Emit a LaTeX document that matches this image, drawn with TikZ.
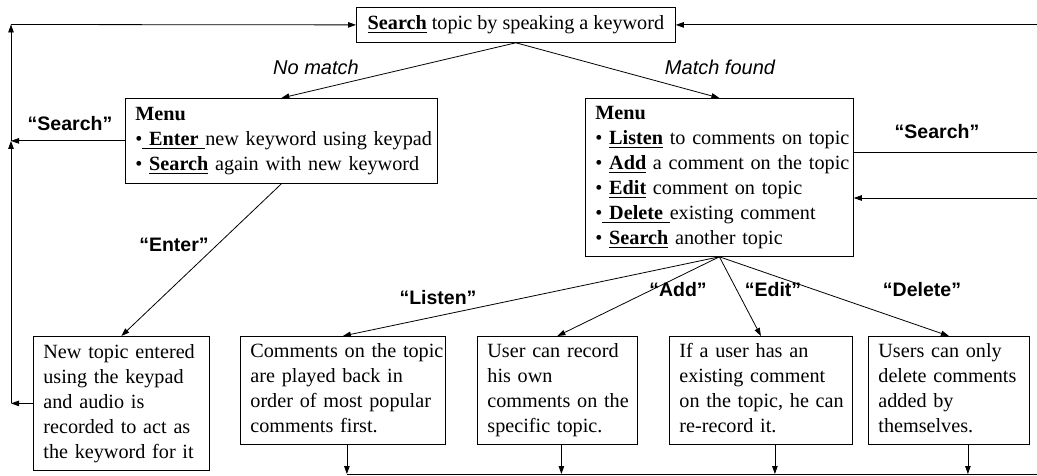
\documentclass[tikz,border=0pt]{standalone}
\usepackage{fontspec}
\setmainfont{Liberation Serif}
\newfontfamily\lsans{Liberation Sans}
\usetikzlibrary{arrows.meta,calc}
\newsavebox\ulbox
\newcommand{\myul}[1]{\sbox\ulbox{#1}\rlap{\rule[-3.4pt]{\wd\ulbox}{1.6pt}}\usebox\ulbox}
\newcommand{\lines}[1]{\begin{tabular}{@{}l@{}}#1\end{tabular}}
\tikzset{
  box/.style={draw, line width=0.8pt, inner xsep=10pt, inner ysep=4pt, align=left,
    anchor=north west, font=\fontsize{20.2}{25}\selectfont},
  lab/.style={font=\lsans\bfseries\fontsize{19.5}{22}\selectfont, inner sep=0pt},
  ital/.style={font=\lsans\itshape\fontsize{20}{22}\selectfont, inner sep=0pt},
  arr/.style={-{Triangle[length=8pt,width=5.5pt]}, line width=0.8pt},
  ln/.style={line width=0.8pt},
}
\begin{document}
\begin{tikzpicture}[x=1pt,y=-1pt]
\useasboundingbox (0,0) rectangle (1037,476);
% boxes
\node[box, minimum width=319pt, minimum height=35pt, align=center] (top) at (356,7)
  {\myul{\textbf{Search}} topic by speaking a keyword};
\node[box, text width=292pt, minimum height=85pt] (leftmenu) at (125,98)
  {\lines{\textbf{Menu}\\
   •\myul{\textbf{\ Enter\ }}new keyword using keypad\\
   • \myul{\textbf{Search}} again with new keyword}};
\node[box, text width=248pt, minimum height=158pt] (rightmenu) at (585,98)
  {\lines{\textbf{Menu}\\
   • \myul{\textbf{Listen}} to comments on topic\\
   • \myul{\textbf{Add}} a comment on the topic\\
   • \myul{\textbf{Edit}} comment on topic\\
   •\myul{\textbf{\ Delete\ }}existing comment\\
   • \myul{\textbf{Search}} another topic}};
\node[box, text width=156pt, minimum height=134pt] (newtopic) at (33,336)
  {\lines{New topic entered\\ using the keypad\\ and audio is\\ recorded to act as\\ the keyword for it}};
\node[box, text width=185pt, minimum height=108pt] (comments) at (240,336)
  {\lines{Comments on the topic\\ are played back in\\ order of most popular\\ comments first.}};
\node[box, text width=140pt, minimum height=108pt] (add) at (477,336)
  {\lines{User can record\\ his own\\ comments on the\\ specific topic.}};
\node[box, text width=163pt, minimum height=108pt] (edit) at (669,336)
  {\lines{If a user has an\\ existing comment\\ on the topic, he can\\ re-record it.}};
\node[box, text width=141pt, minimum height=108pt] (delete) at (868,336)
  {\lines{Users can only\\ delete comments\\ added by\\ themselves.}};
% labels
\node[ital] (nomatch) at (316,67) {No match};
\node[ital] (matchfound) at (720,67) {Match found};
\node[lab] (lsearch) at (70,124) {“Search”};
\node[lab] (rsearch) at (937,132) {“Search”};
\node[lab] (lenter) at (174,245) {“Enter”};
\node[lab] (llisten) at (438,298) {“Listen”};
\node[lab] (ladd) at (678,290) {“Add”};
\node[lab] (ledit) at (773,290) {“Edit”};
\node[lab] (ldelete) at (922,290) {“Delete”};
% coordinates
\coordinate (TL) at (11,24.5);
\coordinate (ML) at (TL |- leftmenu.west);
\coordinate (BL) at (TL |- newtopic.west);
\coordinate (RE) at (1037,0);
\coordinate (RS) at (1037,152);
\coordinate (RB) at (1037,198);
\coordinate (BB) at (1037,474);
% connectors
\draw[arr] (top.south) -- (leftmenu.north);
\draw[arr] (top.south) -- (rightmenu.north);
\draw[arr] (leftmenu.south) -- (newtopic.north);
\foreach \n in {comments,add,edit,delete}
  \draw[arr] (rightmenu.south) -- (\n.north);
\draw[arr] (newtopic.west) -- (BL);
\draw[arr] (BL) -- (ML);
\draw[arr] (leftmenu.west) -- (ML);
\draw[arr] (ML) -- (TL);
\draw[arr] (TL) -- (top.west);
\draw[arr] (top.east -| RE) -- (top.east);
\draw[ln] (rightmenu.east |- RS) -- (RS);
\draw[arr] (RB) -- (rightmenu.east |- RB);
\coordinate (c1) at ([xshift=4pt]comments.south);
\coordinate (a1) at ([xshift=4pt]add.south);
\coordinate (e1) at ([xshift=14pt]edit.south);
\coordinate (d1) at ([xshift=19pt]delete.south);
\draw[arr] (c1) -- (c1 |- BB);
\draw[arr] (a1) -- (a1 |- BB);
\draw[arr] (e1) -- (e1 |- BB);
\draw[arr] (d1) -- (d1 |- BB);
\draw[ln] (c1 |- BB) -- (BB);
\end{tikzpicture}
\end{document}
